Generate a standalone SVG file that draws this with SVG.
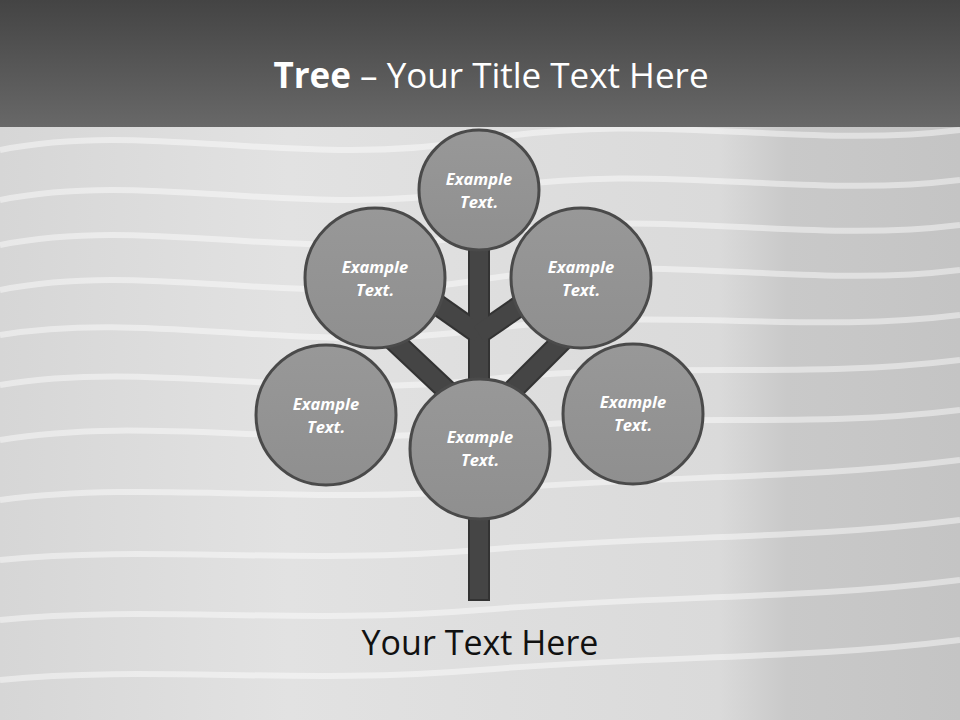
<svg xmlns="http://www.w3.org/2000/svg" width="960" height="720" viewBox="0 0 960 720">
<defs>
<linearGradient id="hdr" x1="0" y1="0" x2="0" y2="1">
<stop offset="0" stop-color="#444"/>
<stop offset="1" stop-color="#686868"/>
</linearGradient>
<linearGradient id="bg" x1="0" y1="0" x2="1" y2="0">
<stop offset="0" stop-color="#d6d6d6"/>
<stop offset="0.3" stop-color="#e2e2e2"/>
<stop offset="0.75" stop-color="#dadada"/>
<stop offset="0.82" stop-color="#c9c9c9"/>
<stop offset="1" stop-color="#c4c4c4"/>
</linearGradient>
<linearGradient id="cf" x1="0" y1="0" x2="0" y2="1">
<stop offset="0" stop-color="#989898"/>
<stop offset="1" stop-color="#8f8f8f"/>
</linearGradient>
</defs>
<style>
.node circle{fill:url(#cf);stroke:#4a4a4a;stroke-width:3}
.node text{font-family:"Open Sans","DejaVu Sans",sans-serif;font-size:16.5px;font-weight:bold;font-style:italic;fill:#fff;text-anchor:middle}
.br{stroke:#333;stroke-width:22;stroke-linecap:butt;fill:none}
.bri{stroke:#454545;stroke-width:18;stroke-linecap:butt;fill:none}
.wave{fill:none;stroke:#fff;stroke-width:6;opacity:0.45}
</style>
<rect x="0" y="0" width="960" height="720" fill="url(#bg)"/>
<g id="waves">
<path class="wave" d="M0 150 C150 120 300 170 480 140 S800 150 960 130"/>
<path class="wave" d="M0 200 C150 170 300 220 480 190 S800 200 960 180"/>
<path class="wave" d="M0 245 C150 215 300 265 480 235 S800 245 960 225"/>
<path class="wave" d="M0 290 C150 260 300 310 480 280 S800 290 960 270"/>
<path class="wave" d="M0 335 C150 310 300 355 480 330 S800 335 960 315"/>
<path class="wave" d="M0 385 C150 360 300 400 480 380 S800 380 960 360"/>
<path class="wave" d="M0 440 C150 415 300 450 480 430 S800 430 960 410"/>
<path class="wave" d="M0 500 C150 480 300 505 480 490 S800 480 960 460"/>
<path class="wave" d="M0 560 C150 545 300 565 480 550 S800 540 960 520"/>
<path class="wave" d="M0 620 C150 605 300 625 480 610 S800 600 960 580"/>
<path class="wave" d="M0 680 C150 665 300 685 480 670 S800 660 960 640"/>
</g>
<rect x="0" y="0" width="960" height="127" fill="url(#hdr)"/>
<text x="491" y="88" font-family="Open Sans, DejaVu Sans, sans-serif" font-size="35" fill="#fff" text-anchor="middle"><tspan font-weight="bold">Tree</tspan> – Your Title Text Here</text>
<g id="connectors">
<line class="br" x1="479" y1="245" x2="479" y2="601"/>
<line class="br" x1="425" y1="296" x2="479" y2="334"/>
<line class="br" x1="534" y1="296" x2="479" y2="334"/>
<line class="br" x1="390" y1="337" x2="458" y2="401"/>
<line class="br" x1="568" y1="335" x2="502" y2="401"/>
<line class="bri" x1="479" y1="247" x2="479" y2="599"/>
<line class="bri" x1="425" y1="296" x2="479" y2="334"/>
<line class="bri" x1="534" y1="296" x2="479" y2="334"/>
<line class="bri" x1="390" y1="337" x2="458" y2="401"/>
<line class="bri" x1="568" y1="335" x2="502" y2="401"/>
</g>
<g id="n-top" class="node"><circle cx="479" cy="190" r="60"/><text x="479" y="185">Example</text><text x="479" y="208">Text.</text></g>
<g id="n-ul" class="node"><circle cx="375" cy="278" r="70"/><text x="375" y="273">Example</text><text x="375" y="296">Text.</text></g>
<g id="n-ur" class="node"><circle cx="581" cy="278" r="70"/><text x="581" y="273">Example</text><text x="581" y="296">Text.</text></g>
<g id="n-ll" class="node"><circle cx="326" cy="415" r="70"/><text x="326" y="410">Example</text><text x="326" y="433">Text.</text></g>
<g id="n-lr" class="node"><circle cx="633" cy="414" r="70"/><text x="633" y="408">Example</text><text x="633" y="431">Text.</text></g>
<g id="n-c" class="node"><circle cx="480" cy="449" r="70"/><text x="480" y="443">Example</text><text x="480" y="466">Text.</text></g>
<text x="480" y="655" font-family="Open Sans, DejaVu Sans, sans-serif" font-size="34" fill="#111" text-anchor="middle">Your Text Here</text>
</svg>
